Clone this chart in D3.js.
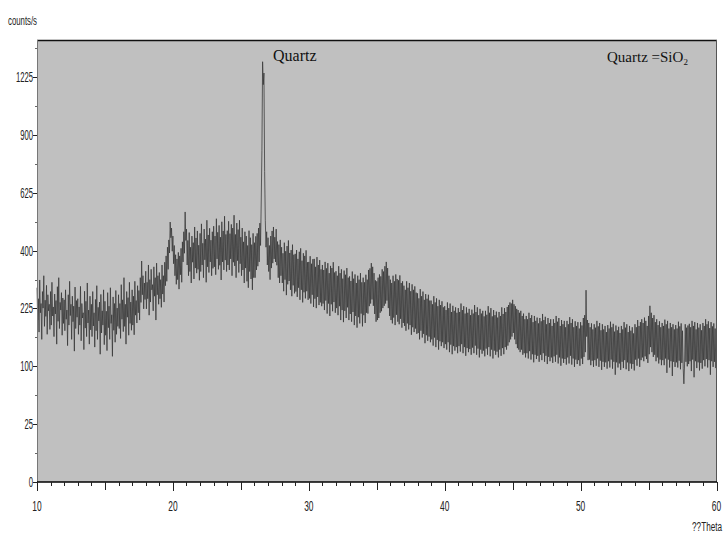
<!DOCTYPE html>
<html>
<head>
<meta charset="utf-8">
<script src="https://cdn.jsdelivr.net/npm/d3@7"></script>
<style>
  body { margin: 0; background: #fff; }
  .lbl { font-family: "Liberation Sans", "DejaVu Sans", sans-serif; font-size: 14px; fill: #222; }
  .ser { font-family: "Liberation Serif", "DejaVu Serif", serif; fill: #111; }
</style>
</head>
<body>
<svg width="723" height="533"></svg>
<script>
var margin = {top: 40, right: 6, bottom: 51, left: 37};

// counts/s, one row per degree 2theta (10 .. 59),
// 20 readings per row, i.e. every 0.05 degree
var countsByDegree = [
  [282, 196, 251, 168, 305, 214, 238, 152, 271, 226, 318, 181, 247, 205, 289, 163, 262, 219, 236, 174], // 10
  [271, 184, 298, 206, 229, 158, 264, 211, 246, 142, 285, 193, 312, 176, 241, 221, 268, 161, 253, 188], // 11
  [248, 171, 276, 198, 221, 139, 262, 184, 301, 207, 236, 152, 258, 192, 231, 128, 284, 176, 246, 203], // 12
  [251, 163, 229, 184, 286, 149, 238, 201, 214, 131, 272, 177, 244, 158, 296, 189, 221, 142, 258, 173], // 13
  [236, 158, 271, 182, 214, 136, 249, 171, 288, 152, 228, 194, 242, 122, 263, 166, 219, 184, 276, 141], // 14
  [244, 161, 218, 129, 268, 178, 231, 152, 282, 188, 209, 118, 256, 172, 238, 146, 274, 163, 226, 181], // 15
  [262, 176, 238, 154, 291, 198, 248, 169, 312, 181, 236, 142, 271, 203, 254, 161, 298, 188, 242, 172], // 16
  [276, 184, 258, 162, 301, 208, 246, 189, 288, 214, 274, 196, 312, 241, 365, 262, 318, 224, 296, 249], // 17
  [332, 224, 298, 251, 352, 208, 306, 242, 338, 276, 291, 219, 346, 258, 312, 196, 358, 262, 318, 236], // 18
  [328, 251, 306, 228, 352, 264, 318, 242, 361, 288, 382, 301, 412, 338, 438, 392, 505, 446, 482, 398], // 19
  [452, 356, 418, 318, 386, 292, 372, 306, 394, 278, 382, 321, 408, 298, 431, 362, 468, 391, 545, 436], // 20
  [478, 352, 436, 318, 465, 331, 412, 296, 452, 361, 428, 308, 486, 342, 445, 326, 471, 338, 419, 304], // 21
  [462, 331, 498, 352, 426, 312, 478, 369, 441, 298, 512, 346, 456, 328, 481, 362, 437, 318, 468, 341], // 22
  [489, 346, 452, 321, 518, 372, 466, 338, 492, 351, 448, 305, 506, 362, 471, 336, 528, 368, 458, 331], // 23
  [472, 352, 508, 336, 461, 372, 496, 318, 482, 361, 532, 349, 458, 312, 501, 366, 476, 328, 512, 356], // 24
  [448, 318, 482, 336, 431, 296, 468, 342, 452, 301, 418, 282, 472, 331, 446, 308, 421, 276, 462, 312], // 25
  [428, 312, 451, 336, 462, 348, 482, 362, 501, 418, 590, 820, 1320, 1180, 1250, 720, 512, 412, 468, 352], // 26
  [446, 331, 418, 306, 452, 342, 471, 358, 486, 372, 448, 362, 478, 351, 432, 312, 421, 296, 438, 318], // 27
  [412, 296, 391, 272, 428, 306, 398, 261, 416, 292, 436, 302, 392, 276, 402, 258, 421, 289, 386, 266], // 28
  [389, 271, 402, 256, 372, 282, 396, 248, 408, 276, 366, 241, 391, 269, 382, 252, 401, 272, 361, 248], // 29
  [362, 252, 381, 238, 356, 262, 371, 229, 372, 251, 346, 226, 378, 256, 352, 234, 368, 241, 338, 231], // 30
  [352, 238, 336, 221, 362, 246, 341, 212, 358, 238, 326, 206, 349, 236, 342, 218, 361, 242, 328, 214], // 31
  [332, 226, 318, 208, 348, 231, 326, 196, 338, 221, 309, 191, 334, 219, 321, 201, 342, 228, 312, 196], // 32
  [316, 211, 302, 192, 331, 216, 309, 184, 322, 206, 296, 178, 318, 203, 306, 188, 326, 212, 298, 181], // 33
  [312, 208, 298, 189, 321, 214, 306, 212, 336, 231, 341, 238, 358, 249, 346, 232, 326, 211, 304, 192], // 34
  [301, 196, 312, 201, 322, 214, 316, 218, 338, 226, 331, 232, 348, 238, 362, 246, 342, 226, 318, 206], // 35
  [306, 196, 296, 188, 318, 202, 301, 184, 322, 209, 308, 192, 304, 186, 319, 199, 296, 178, 301, 189], // 36
  [288, 182, 276, 171, 301, 188, 282, 174, 296, 184, 272, 162, 292, 179, 276, 168, 286, 176, 268, 164], // 37
  [266, 166, 252, 152, 278, 171, 258, 156, 271, 164, 248, 144, 264, 161, 251, 149, 262, 158, 246, 146], // 38
  [246, 152, 236, 139, 258, 156, 241, 136, 252, 151, 231, 131, 248, 148, 234, 138, 244, 146, 228, 134], // 39
  [231, 142, 221, 131, 241, 146, 226, 126, 238, 141, 216, 122, 232, 138, 219, 129, 228, 136, 214, 124], // 40
  [226, 138, 216, 127, 238, 142, 221, 124, 231, 136, 212, 119, 228, 134, 214, 126, 224, 132, 208, 121], // 41
  [222, 135, 212, 124, 234, 139, 216, 121, 228, 133, 208, 116, 224, 131, 212, 123, 219, 129, 205, 118], // 42
  [219, 133, 209, 121, 231, 136, 214, 118, 226, 131, 205, 114, 221, 129, 208, 121, 217, 127, 202, 116], // 43
  [216, 131, 206, 119, 228, 134, 211, 122, 226, 136, 216, 131, 229, 139, 234, 146, 241, 152, 238, 158], // 44
  [248, 166, 236, 152, 231, 142, 224, 134, 221, 131, 214, 126, 219, 131, 206, 121, 212, 124, 198, 116], // 45
  [206, 124, 198, 114, 214, 128, 201, 112, 208, 122, 191, 107, 206, 121, 194, 113, 202, 119, 188, 108], // 46
  [201, 121, 193, 111, 211, 124, 196, 108, 204, 119, 186, 104, 201, 117, 189, 109, 198, 116, 182, 106], // 47
  [198, 118, 189, 108, 206, 121, 192, 105, 201, 116, 182, 101, 196, 114, 186, 106, 194, 113, 179, 103], // 48
  [194, 116, 186, 105, 203, 119, 189, 103, 198, 114, 179, 99, 193, 112, 182, 104, 191, 111, 176, 101],  // 49
  [191, 114, 183, 104, 201, 117, 208, 126, 275, 158, 196, 111, 189, 112, 179, 102, 188, 110, 174, 99],  // 50
  [186, 111, 178, 101, 194, 114, 181, 99, 189, 110, 172, 94, 186, 108, 174, 99, 182, 107, 168, 96],     // 51
  [184, 109, 176, 98, 192, 112, 179, 96, 187, 108, 169, 86, 183, 107, 172, 98, 180, 105, 166, 94],      // 52
  [182, 108, 174, 97, 191, 111, 178, 95, 186, 107, 168, 92, 182, 105, 171, 96, 179, 104, 165, 93],      // 53
  [186, 112, 179, 101, 196, 114, 182, 99, 191, 111, 198, 116, 189, 109, 202, 118, 194, 113, 182, 106],  // 54
  [206, 122, 232, 136, 214, 126, 201, 117, 208, 121, 191, 109, 198, 116, 184, 105, 193, 112, 179, 102], // 55
  [189, 111, 182, 102, 197, 114, 186, 89, 194, 112, 176, 98, 189, 109, 179, 84, 186, 108, 174, 99],     // 56
  [184, 107, 176, 98, 192, 110, 181, 95, 188, 106, 171, 96, 72, 104, 186, 108, 178, 100, 183, 104],     // 57
  [187, 109, 179, 92, 194, 112, 182, 82, 191, 109, 174, 97, 189, 107, 178, 93, 186, 106, 172, 96],      // 58
  [189, 111, 182, 100, 198, 113, 186, 98, 193, 111, 177, 86, 191, 109, 181, 99, 188, 108, 176, 97]      // 59
];
var lastReading = [60, 139];

var xMajor = [10, 20, 30, 40, 50, 60];
var yMajor = [0, 25, 100, 225, 400, 625, 900, 1225];
var yMinor = [6.25, 56.25, 156.25, 306.25, 506.25, 756.25, 1056.25, 1406.25];

var points = [];
countsByDegree.forEach(function(row, k) {
    row.forEach(function(c, j) { points.push([10 + k + j / row.length, c]); });
});
points.push(lastReading);

var svg = d3.select("svg");
var width = 723 - margin.left - margin.right;
var height = 533 - margin.top - margin.bottom;

var g = svg.append("g")
    .attr("transform", "translate(" + margin.left + "," + margin.top + ")");

var x = d3.scaleLinear().domain([10, 60]).range([0, width - 0.5]);
var y = d3.scaleSqrt().domain([0, 1460]).range([height, 0]);

// plot background
g.append("rect")
    .attr("width", width)
    .attr("height", height)
    .attr("fill", "#c0c0c0");

// pattern
var line = d3.line()
    .x(function(d) { return x(d[0]); })
    .y(function(d) { return y(d[1]); });

g.append("path")
    .datum(points)
    .attr("d", line)
    .attr("fill", "none")
    .attr("stroke", "#363636")
    .attr("stroke-opacity", 0.85)
    .attr("stroke-width", 0.9);

// frame
g.append("line").attr("x1", 0).attr("x2", width).attr("y1", 0.5).attr("y2", 0.5)
    .attr("stroke", "#111").attr("stroke-width", 1.5);
g.append("line").attr("x1", 0.5).attr("x2", 0.5).attr("y1", 0).attr("y2", height)
    .attr("stroke", "#777");
g.append("line").attr("x1", width - 0.5).attr("x2", width - 0.5).attr("y1", 0).attr("y2", height)
    .attr("stroke", "#555");

// condensed label helper
function squeeze(sel, sx) {
    sel.attr("transform", function() {
        var t = d3.select(this);
        return "translate(" + t.attr("data-x") + "," + t.attr("data-y") + ") scale(" + sx + ",1)";
    });
}

// x axis: ticks every 1 degree, longer every 5
var xAxis = g.append("g")
    .attr("transform", "translate(0," + height + ")");
xAxis.append("line").attr("x1", 0).attr("x2", width).attr("y1", 0).attr("y2", 0)
    .attr("stroke", "#000").attr("stroke-width", 1.5);
xAxis.selectAll(".xt")
    .data(d3.range(10, 61))
    .enter().append("line")
    .attr("class", "xt")
    .attr("x1", function(d) { return Math.round(x(d)) + 0.5; })
    .attr("x2", function(d) { return Math.round(x(d)) + 0.5; })
    .attr("y1", 0)
    .attr("y2", function(d) { return d % 10 == 0 ? 9 : (d % 5 == 0 ? 8 : 4); })
    .attr("stroke", "#222");
xAxis.selectAll(".xl")
    .data(xMajor)
    .enter().append("text")
    .attr("class", "lbl")
    .attr("data-x", function(d) { return x(d); })
    .attr("data-y", 29)
    .attr("text-anchor", "middle")
    .text(function(d) { return d; })
    .call(squeeze, 0.6);

// y axis (square-root scale)
var yAxis = g.append("g");
yAxis.selectAll(".yt")
    .data(yMajor)
    .enter().append("line")
    .attr("x1", -4).attr("x2", 0)
    .attr("y1", function(d) { return Math.round(y(d)) + 0.5; })
    .attr("y2", function(d) { return Math.round(y(d)) + 0.5; })
    .attr("stroke", "#222");
yAxis.selectAll(".ym")
    .data(yMinor)
    .enter().append("line")
    .attr("x1", -2).attr("x2", 0)
    .attr("y1", function(d) { return Math.round(y(d)) + 0.5; })
    .attr("y2", function(d) { return Math.round(y(d)) + 0.5; })
    .attr("stroke", "#666");
yAxis.selectAll(".yl")
    .data(yMajor)
    .enter().append("text")
    .attr("class", "lbl")
    .attr("data-x", -4)
    .attr("data-y", function(d) { return y(d); })
    .attr("dy", "0.35em")
    .attr("text-anchor", "end")
    .text(function(d) { return d; })
    .call(squeeze, 0.55);

// axis titles
svg.append("text").attr("class", "lbl")
    .attr("data-x", 8).attr("data-y", 25).style("font-size", "12px")
    .text("counts/s")
    .call(squeeze, 0.65);
svg.append("text").attr("class", "lbl")
    .attr("data-x", 722).attr("data-y", 531).attr("text-anchor", "end")
    .style("font-size", "12px")
    .text("??Theta")
    .call(squeeze, 0.68);

// annotations
svg.append("text").attr("class", "ser")
    .attr("x", 273).attr("y", 61).style("font-size", "16px")
    .text("Quartz");
var f = svg.append("text").attr("class", "ser")
    .attr("x", 607).attr("y", 62).style("font-size", "15px");
f.append("tspan").text("Quartz =SiO");
f.append("tspan").attr("dy", 3).style("font-size", "9px").text("2");
</script>
</body>
</html>
